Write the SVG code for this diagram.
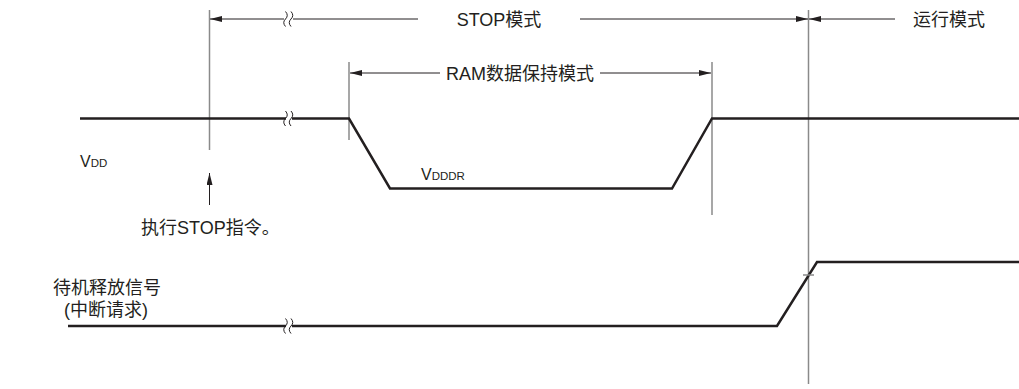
<svg xmlns="http://www.w3.org/2000/svg" width="1019" height="389" viewBox="0 0 1019 389">
<style>
.sig{fill:none;stroke:#231f20;stroke-width:2.5;stroke-linejoin:miter}
.dim{fill:none;stroke:#231f20;stroke-width:1}
.vl{fill:none;stroke:#8a8a8a;stroke-width:1.5}
.brk{fill:none;stroke:#231f20;stroke-width:1}
.t{font-family:"Liberation Sans","Noto Sans CJK SC",sans-serif;font-size:18px;fill:#231f20}
.s{font-family:"Liberation Sans",sans-serif;fill:#231f20}
</style>
<defs>
<marker id="ah" viewBox="0 0 12 6" refX="12" refY="3" markerWidth="12" markerHeight="6" markerUnits="userSpaceOnUse" orient="auto">
<path d="M0,0 L12,3 L0,6 Z" fill="#231f20"/>
</marker>
</defs>
<rect width="1019" height="389" fill="#fff"/>
<g id="guides">
<line class="vl" x1="209.5" y1="10" x2="209.5" y2="150"/>
<line class="vl" x1="349" y1="62" x2="349" y2="140"/>
<line class="vl" x1="712" y1="62" x2="712" y2="215"/>
<line class="vl" x1="808.5" y1="10" x2="808.5" y2="384"/>
</g>
<g id="connectors">
<line class="dim" x1="284" y1="19" x2="210" y2="19" marker-end="url(#ah)"/>
<line class="dim" x1="293" y1="19" x2="418" y2="19"/>
<line class="dim" x1="580" y1="19" x2="808" y2="19" marker-end="url(#ah)"/>
<line class="dim" x1="895" y1="19" x2="809" y2="19" marker-end="url(#ah)"/>
<path class="brk" d="M285.5,11.5 q3.5,4 0,7.5 q-3.5,3.5 0,7.5 M291,11.5 q3.5,4 0,7.5 q-3.5,3.5 0,7.5"/>
<line class="dim" x1="440" y1="73" x2="350" y2="73" marker-end="url(#ah)"/>
<line class="dim" x1="600" y1="73" x2="711" y2="73" marker-end="url(#ah)"/>
<line class="dim" x1="209.5" y1="205" x2="209.5" y2="173" marker-end="url(#ah)"/>
</g>
<g id="vdd-signal">
<path class="sig" d="M80,118.5 H286 M292,118.5 H349 L390,188.5 H672 L712,118.5 H1019"/>
<path class="brk" d="M285.5,111 q3.5,4 0,7.5 q-3.5,3.5 0,7.5 M291,111 q3.5,4 0,7.5 q-3.5,3.5 0,7.5"/>
</g>
<g id="release-signal">
<path class="sig" d="M68,326 H286 M292,326 H777 L817,262 H1019"/>
<path class="brk" d="M285.5,318.5 q3.5,4 0,7.5 q-3.5,3.5 0,7.5 M291,318.5 q3.5,4 0,7.5 q-3.5,3.5 0,7.5"/>
<line class="vl" x1="803" y1="275" x2="814" y2="275" stroke-width="1"/>
</g>
<g id="labels">
<text class="t" x="499" y="26" text-anchor="middle">STOP模式</text>
<text class="t" x="913" y="26">运行模式</text>
<text class="t" x="520" y="80" text-anchor="middle">RAM数据保持模式</text>
<text class="s" x="80" y="167" font-size="16">V<tspan font-size="11.5">DD</tspan></text>
<text class="s" x="421" y="180" font-size="16">V<tspan font-size="11.5">DDDR</tspan></text>
<text class="t" x="141" y="234">执行STOP指令。</text>
<text class="t" x="53" y="294" font-size="19">待机释放信号</text>
<text class="t" x="64" y="316">(中断请求)</text>
</g>
</svg>
